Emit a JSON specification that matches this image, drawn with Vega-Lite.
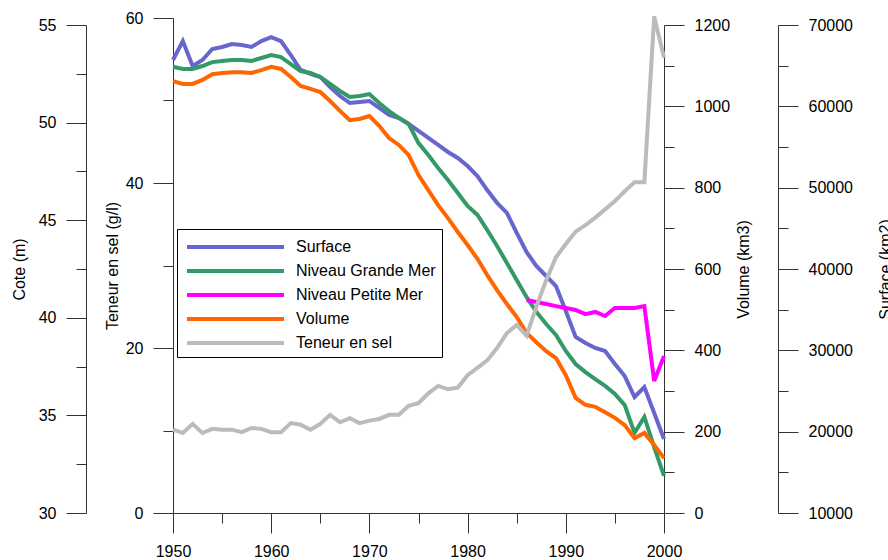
{
  "$schema": "https://vega.github.io/schema/vega-lite/v6.json",
  "width": 491,
  "height": 495,
  "autosize": {"type": "none"},
  "padding": {"left": 173, "top": 18, "right": 224, "bottom": 47},
  "background": "white",
  "datasets": {
    "surface": [
      {"year":1950,"value":65700},{"year":1951,"value":68030},{"year":1952,"value":64960},{"year":1953,"value":65700},{"year":1954,"value":67050},{"year":1955,"value":67300},{"year":1956,"value":67660},{"year":1957,"value":67540},{"year":1958,"value":67300},{"year":1959,"value":68030},
      {"year":1960,"value":68520},{"year":1961,"value":68030},{"year":1962,"value":66310},{"year":1963,"value":64470},{"year":1964,"value":63980},{"year":1965,"value":63610},{"year":1966,"value":62380},{"year":1967,"value":61270},{"year":1968,"value":60410},{"year":1969,"value":60530},
      {"year":1970,"value":60660},{"year":1971,"value":59800},{"year":1972,"value":58930},{"year":1973,"value":58570},{"year":1974,"value":57830},{"year":1975,"value":56970},{"year":1976,"value":56110},{"year":1977,"value":55250},{"year":1978,"value":54390},{"year":1979,"value":53650},
      {"year":1980,"value":52660},{"year":1981,"value":51430},{"year":1982,"value":49710},{"year":1983,"value":48120},{"year":1984,"value":46890},{"year":1985,"value":44430},{"year":1986,"value":42090},{"year":1987,"value":40370},{"year":1988,"value":39140},{"year":1989,"value":37910},
      {"year":1990,"value":34840},{"year":1991,"value":31640},{"year":1992,"value":30900},{"year":1993,"value":30290},{"year":1994,"value":29920},{"year":1995,"value":28320},{"year":1996,"value":26840},{"year":1997,"value":24260},{"year":1998,"value":25490},{"year":1999,"value":22300},{"year":2000,"value":19100}
    ],
    "cote": [
      {"year":1950,"series":"Niveau Grande Mer","value":52.86},{"year":1951,"series":"Niveau Grande Mer","value":52.75},{"year":1952,"series":"Niveau Grande Mer","value":52.75},{"year":1953,"series":"Niveau Grande Mer","value":52.9},{"year":1954,"series":"Niveau Grande Mer","value":53.1},{"year":1955,"series":"Niveau Grande Mer","value":53.16},{"year":1956,"series":"Niveau Grande Mer","value":53.21},{"year":1957,"series":"Niveau Grande Mer","value":53.21},{"year":1958,"series":"Niveau Grande Mer","value":53.16},{"year":1959,"series":"Niveau Grande Mer","value":53.31},
      {"year":1960,"series":"Niveau Grande Mer","value":53.46},{"year":1961,"series":"Niveau Grande Mer","value":53.36},{"year":1962,"series":"Niveau Grande Mer","value":53.0},{"year":1963,"series":"Niveau Grande Mer","value":52.64},{"year":1964,"series":"Niveau Grande Mer","value":52.54},{"year":1965,"series":"Niveau Grande Mer","value":52.34},{"year":1966,"series":"Niveau Grande Mer","value":51.98},{"year":1967,"series":"Niveau Grande Mer","value":51.62},{"year":1968,"series":"Niveau Grande Mer","value":51.31},{"year":1969,"series":"Niveau Grande Mer","value":51.36},
      {"year":1970,"series":"Niveau Grande Mer","value":51.46},{"year":1971,"series":"Niveau Grande Mer","value":51.0},{"year":1972,"series":"Niveau Grande Mer","value":50.59},{"year":1973,"series":"Niveau Grande Mer","value":50.24},{"year":1974,"series":"Niveau Grande Mer","value":49.93},{"year":1975,"series":"Niveau Grande Mer","value":48.95},{"year":1976,"series":"Niveau Grande Mer","value":48.34},{"year":1977,"series":"Niveau Grande Mer","value":47.67},{"year":1978,"series":"Niveau Grande Mer","value":47.06},{"year":1979,"series":"Niveau Grande Mer","value":46.39},
      {"year":1980,"series":"Niveau Grande Mer","value":45.73},{"year":1981,"series":"Niveau Grande Mer","value":45.27},{"year":1982,"series":"Niveau Grande Mer","value":44.5},{"year":1983,"series":"Niveau Grande Mer","value":43.68},{"year":1984,"series":"Niveau Grande Mer","value":42.81},{"year":1985,"series":"Niveau Grande Mer","value":41.94},{"year":1986,"series":"Niveau Grande Mer","value":41.07},{"year":1987,"series":"Niveau Grande Mer","value":40.3},{"year":1988,"series":"Niveau Grande Mer","value":39.68},{"year":1989,"series":"Niveau Grande Mer","value":39.12},
      {"year":1990,"series":"Niveau Grande Mer","value":38.3},{"year":1991,"series":"Niveau Grande Mer","value":37.63},{"year":1992,"series":"Niveau Grande Mer","value":37.22},{"year":1993,"series":"Niveau Grande Mer","value":36.86},{"year":1994,"series":"Niveau Grande Mer","value":36.51},{"year":1995,"series":"Niveau Grande Mer","value":36.1},{"year":1996,"series":"Niveau Grande Mer","value":35.53},{"year":1997,"series":"Niveau Grande Mer","value":34.1},{"year":1998,"series":"Niveau Grande Mer","value":34.92},{"year":1999,"series":"Niveau Grande Mer","value":33.38},{"year":2000,"series":"Niveau Grande Mer","value":31.9},
      {"year":1986,"series":"Niveau Petite Mer","value":40.91},{"year":1987,"series":"Niveau Petite Mer","value":40.81},{"year":1988,"series":"Niveau Petite Mer","value":40.71},{"year":1989,"series":"Niveau Petite Mer","value":40.6},{"year":1990,"series":"Niveau Petite Mer","value":40.5},{"year":1991,"series":"Niveau Petite Mer","value":40.4},{"year":1992,"series":"Niveau Petite Mer","value":40.19},{"year":1993,"series":"Niveau Petite Mer","value":40.3},{"year":1994,"series":"Niveau Petite Mer","value":40.09},{"year":1995,"series":"Niveau Petite Mer","value":40.5},{"year":1996,"series":"Niveau Petite Mer","value":40.5},{"year":1997,"series":"Niveau Petite Mer","value":40.5},{"year":1998,"series":"Niveau Petite Mer","value":40.6},{"year":1999,"series":"Niveau Petite Mer","value":36.76},{"year":2000,"series":"Niveau Petite Mer","value":38.04}
    ],
    "volume": [
      {"year":1950,"value":1062},{"year":1951,"value":1055},{"year":1952,"value":1055},{"year":1953,"value":1065},{"year":1954,"value":1079},{"year":1955,"value":1082},{"year":1956,"value":1084},{"year":1957,"value":1084},{"year":1958,"value":1082},{"year":1959,"value":1089},
      {"year":1960,"value":1097},{"year":1961,"value":1092},{"year":1962,"value":1072},{"year":1963,"value":1050},{"year":1964,"value":1043},{"year":1965,"value":1035},{"year":1966,"value":1013},{"year":1967,"value":989},{"year":1968,"value":966},{"year":1969,"value":969},
      {"year":1970,"value":976},{"year":1971,"value":952},{"year":1972,"value":922},{"year":1973,"value":905},{"year":1974,"value":880},{"year":1975,"value":831},{"year":1976,"value":794},{"year":1977,"value":757},{"year":1978,"value":725},{"year":1979,"value":691},
      {"year":1980,"value":659},{"year":1981,"value":625},{"year":1982,"value":585},{"year":1983,"value":548},{"year":1984,"value":514},{"year":1985,"value":482},{"year":1986,"value":443},{"year":1987,"value":420},{"year":1988,"value":398},{"year":1989,"value":381},
      {"year":1990,"value":339},{"year":1991,"value":283},{"year":1992,"value":266},{"year":1993,"value":261},{"year":1994,"value":248},{"year":1995,"value":234},{"year":1996,"value":216},{"year":1997,"value":184},{"year":1998,"value":197},{"year":1999,"value":167},{"year":2000,"value":135}
    ],
    "sel": [
      {"year":1950,"value":10.1},{"year":1951,"value":9.7},{"year":1952,"value":10.8},{"year":1953,"value":9.7},{"year":1954,"value":10.2},{"year":1955,"value":10.1},{"year":1956,"value":10.1},{"year":1957,"value":9.8},{"year":1958,"value":10.3},{"year":1959,"value":10.2},
      {"year":1960,"value":9.8},{"year":1961,"value":9.8},{"year":1962,"value":10.9},{"year":1963,"value":10.7},{"year":1964,"value":10.1},{"year":1965,"value":10.8},{"year":1966,"value":11.9},{"year":1967,"value":11.0},{"year":1968,"value":11.5},{"year":1969,"value":10.9},
      {"year":1970,"value":11.2},{"year":1971,"value":11.4},{"year":1972,"value":11.9},{"year":1973,"value":11.9},{"year":1974,"value":13.0},{"year":1975,"value":13.3},{"year":1976,"value":14.5},{"year":1977,"value":15.4},{"year":1978,"value":15.0},{"year":1979,"value":15.2},
      {"year":1980,"value":16.7},{"year":1981,"value":17.6},{"year":1982,"value":18.5},{"year":1983,"value":20.0},{"year":1984,"value":21.8},{"year":1985,"value":22.8},{"year":1986,"value":21.5},{"year":1987,"value":25.0},{"year":1988,"value":28.2},{"year":1989,"value":31.0},
      {"year":1990,"value":32.6},{"year":1991,"value":34.1},{"year":1992,"value":34.9},{"year":1993,"value":35.8},{"year":1994,"value":36.8},{"year":1995,"value":37.8},{"year":1996,"value":39.0},{"year":1997,"value":40.1},{"year":1998,"value":40.1},{"year":1999,"value":60.2},{"year":2000,"value":55.2}
    ]
  },
  "resolve": {"scale": {"y": "independent"}, "axis": {"y": "independent"}},
  "layer": [
    {
      "data": {"name": "surface"},
      "transform": [{"calculate": "'Surface'", "as": "series"}],
      "mark": {"type": "line", "strokeWidth": 4, "clip": false},
      "encoding": {
        "x": {"field": "year", "type": "quantitative", "scale": {"domain": [1950, 2000], "nice": false, "zero": false},
              "axis": {"title": null, "orient": "bottom", "values": [1950,1955,1960,1965,1970,1975,1980,1985,1990,1995,2000], "format": "d", "labelExpr": "datum.value % 10 === 0 ? datum.label : ''", "tickSize": {"condition": {"test": "datum.value % 10 === 0", "value": 20}, "value": 10}, "labelPadding": 10}},
        "y": {"field": "value", "type": "quantitative", "scale": {"domain": [10000, 70000], "range": [495, 7], "nice": false, "zero": false},
              "axis": {"orient": "right", "offset": 114, "title": "Surface (km2)", "titleAngle": 270, "titleBaseline": "top", "titlePadding": 25, "format": "d", "values": [10000,15000,20000,25000,30000,35000,40000,45000,50000,55000,60000,65000,70000], "labelExpr": "datum.value % 10000 === 0 ? datum.label : ''", "tickSize": {"condition": {"test": "datum.value % 10000 === 0", "value": 20}, "value": 10}}},
        "color": {"field": "series", "type": "nominal",
                  "scale": {"domain": ["Surface", "Niveau Grande Mer", "Niveau Petite Mer", "Volume", "Teneur en sel"], "range": ["#6666cc", "#339966", "#ff00ff", "#ff6600", "#bbbbbb"]},
                  "legend": {"title": null, "orient": "none", "legendX": 4, "legendY": 211, "direction": "vertical", "padding": 6, "strokeColor": "#000", "fillColor": "#fff", "symbolType": "M-0.8,0H8.9", "symbolSize": 400, "symbolStrokeWidth": 4, "labelFontSize": 16, "labelFont": "Liberation Sans", "labelColor": "#000", "labelOffset": 89, "rowPadding": 4, "labelLimit": 300}}
      }
    },
    {
      "data": {"name": "cote"},
      "mark": {"type": "line", "strokeWidth": 4, "clip": false},
      "encoding": {
        "x": {"field": "year", "type": "quantitative", "scale": {"domain": [1950, 2000], "nice": false, "zero": false},
              "axis": {"title": null, "orient": "bottom", "values": [1950,1955,1960,1965,1970,1975,1980,1985,1990,1995,2000], "format": "d", "labelExpr": "datum.value % 10 === 0 ? datum.label : ''", "tickSize": {"condition": {"test": "datum.value % 10 === 0", "value": 20}, "value": 10}, "labelPadding": 10}},
        "y": {"field": "value", "type": "quantitative", "scale": {"domain": [30, 55], "range": [495, 7], "nice": false, "zero": false},
              "axis": {"orient": "left", "offset": 87, "title": "Cote (m)", "titlePadding": 11, "format": "d", "values": [30,32.5,35,37.5,40,42.5,45,47.5,50,52.5,55], "labelExpr": "datum.value % 5 === 0 ? datum.label : ''", "tickSize": {"condition": {"test": "datum.value % 5 === 0", "value": 20}, "value": 10}}},
        "color": {"field": "series", "type": "nominal",
                  "scale": {"domain": ["Surface", "Niveau Grande Mer", "Niveau Petite Mer", "Volume", "Teneur en sel"], "range": ["#6666cc", "#339966", "#ff00ff", "#ff6600", "#bbbbbb"]},
                  "legend": {"title": null, "orient": "none", "legendX": 4, "legendY": 211, "direction": "vertical", "padding": 6, "strokeColor": "#000", "fillColor": "#fff", "symbolType": "M-0.8,0H8.9", "symbolSize": 400, "symbolStrokeWidth": 4, "labelFontSize": 16, "labelFont": "Liberation Sans", "labelColor": "#000", "labelOffset": 89, "rowPadding": 4, "labelLimit": 300}}
      }
    },
    {
      "data": {"name": "volume"},
      "transform": [{"calculate": "'Volume'", "as": "series"}],
      "mark": {"type": "line", "strokeWidth": 4, "clip": false},
      "encoding": {
        "x": {"field": "year", "type": "quantitative", "scale": {"domain": [1950, 2000], "nice": false, "zero": false},
              "axis": {"title": null, "orient": "bottom", "values": [1950,1955,1960,1965,1970,1975,1980,1985,1990,1995,2000], "format": "d", "labelExpr": "datum.value % 10 === 0 ? datum.label : ''", "tickSize": {"condition": {"test": "datum.value % 10 === 0", "value": 20}, "value": 10}, "labelPadding": 10}},
        "y": {"field": "value", "type": "quantitative", "scale": {"domain": [0, 1200], "range": [495, 7], "nice": false, "zero": false},
              "axis": {"orient": "right", "offset": 0, "title": "Volume (km3)", "titleAngle": 270, "titleBaseline": "top", "titlePadding": 6, "format": "d", "values": [0,100,200,300,400,500,600,700,800,900,1000,1100,1200], "labelExpr": "datum.value % 200 === 0 ? datum.label : ''", "tickSize": {"condition": {"test": "datum.value % 200 === 0", "value": 20}, "value": 10}}},
        "color": {"field": "series", "type": "nominal",
                  "scale": {"domain": ["Surface", "Niveau Grande Mer", "Niveau Petite Mer", "Volume", "Teneur en sel"], "range": ["#6666cc", "#339966", "#ff00ff", "#ff6600", "#bbbbbb"]},
                  "legend": {"title": null, "orient": "none", "legendX": 4, "legendY": 211, "direction": "vertical", "padding": 6, "strokeColor": "#000", "fillColor": "#fff", "symbolType": "M-0.8,0H8.9", "symbolSize": 400, "symbolStrokeWidth": 4, "labelFontSize": 16, "labelFont": "Liberation Sans", "labelColor": "#000", "labelOffset": 89, "rowPadding": 4, "labelLimit": 300}}
      }
    },
    {
      "data": {"name": "sel"},
      "transform": [{"calculate": "'Teneur en sel'", "as": "series"}],
      "mark": {"type": "line", "strokeWidth": 4, "clip": false},
      "encoding": {
        "x": {"field": "year", "type": "quantitative", "scale": {"domain": [1950, 2000], "nice": false, "zero": false},
              "axis": {"title": null, "orient": "bottom", "values": [1950,1955,1960,1965,1970,1975,1980,1985,1990,1995,2000], "format": "d", "labelExpr": "datum.value % 10 === 0 ? datum.label : ''", "tickSize": {"condition": {"test": "datum.value % 10 === 0", "value": 20}, "value": 10}, "labelPadding": 10}},
        "y": {"field": "value", "type": "quantitative", "scale": {"domain": [0, 60], "nice": false, "zero": false},
              "axis": {"orient": "left", "offset": 0, "title": "Teneur en sel (g/l)", "titlePadding": 5, "format": "d", "values": [0,10,20,30,40,50,60], "labelExpr": "datum.value % 20 === 0 ? datum.label : ''", "tickSize": {"condition": {"test": "datum.value % 20 === 0", "value": 20}, "value": 10}}},
        "color": {"field": "series", "type": "nominal",
                  "scale": {"domain": ["Surface", "Niveau Grande Mer", "Niveau Petite Mer", "Volume", "Teneur en sel"], "range": ["#6666cc", "#339966", "#ff00ff", "#ff6600", "#bbbbbb"]},
                  "legend": {"title": null, "orient": "none", "legendX": 4, "legendY": 211, "direction": "vertical", "padding": 6, "strokeColor": "#000", "fillColor": "#fff", "symbolType": "M-0.8,0H8.9", "symbolSize": 400, "symbolStrokeWidth": 4, "labelFontSize": 16, "labelFont": "Liberation Sans", "labelColor": "#000", "labelOffset": 89, "rowPadding": 4, "labelLimit": 300}}
      }
    }
  ],
  "config": {
    "font": "Liberation Sans",
    "view": {"stroke": null},
    "axis": {"labelFont": "Liberation Sans", "titleFont": "Liberation Sans", "labelFontSize": 16, "titleFontSize": 16, "titleFontWeight": "normal", "labelColor": "#000", "titleColor": "#000", "domainColor": "#333", "tickColor": "#333", "grid": false, "labelOverlap": false, "labelFlush": false, "labelBound": false, "labelPadding": 10}
  }
}
